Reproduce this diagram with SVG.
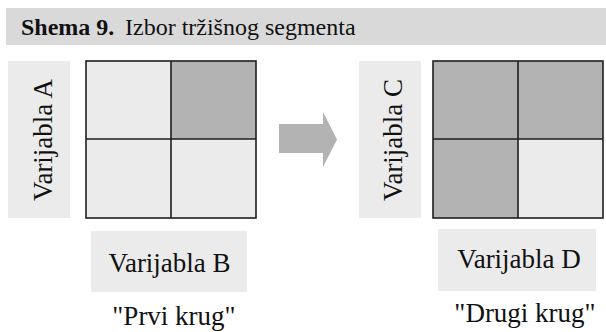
<svg xmlns="http://www.w3.org/2000/svg" width="606" height="332" viewBox="0 0 606 332">
<style>
text{font-family:'Liberation Serif',serif;fill:#111}
.lab{fill:#ebebeb}
.lt{fill:#ebebeb}
.dk{fill:#b3b3b3}
.grid{fill:none;stroke:#1e1e1e;stroke-width:1.6}
</style>
<rect width="606" height="332" fill="#fff"/>
<g id="header">
<rect x="6" y="8" width="600" height="37" fill="#d9d9d9"/>
<text x="21" y="35" font-size="24" font-weight="bold" font-family="Liberation Serif, serif">Shema 9.</text>
<text x="125" y="35" font-size="24" font-family="Liberation Serif, serif">Izbor tržišnog segmenta</text>
</g>
<g id="labelA">
<rect class="lab" x="8" y="61" width="62" height="157"/>
<text font-size="27" text-anchor="middle" font-family="Liberation Serif, serif" transform="translate(52,140) rotate(-90)">Varijabla A</text>
</g>
<g id="grid1">
<rect class="lt" x="86" y="61" width="85" height="78"/>
<rect class="dk" x="171" y="61" width="85" height="78"/>
<rect class="lt" x="86" y="139" width="85" height="79"/>
<rect class="lt" x="171" y="139" width="85" height="79"/>
<rect class="grid" x="86" y="61" width="170" height="157"/>
<line class="grid" x1="171" y1="61" x2="171" y2="218"/>
<line class="grid" x1="86" y1="139" x2="256" y2="139"/>
</g>
<g id="connectors">
<polygon points="279,124 323,124 323,112 337,139.5 323,167 323,153 279,153" fill="#b3b3b3"/>
</g>
<g id="labelC">
<rect class="lab" x="359" y="61" width="62" height="157"/>
<text font-size="27" text-anchor="middle" font-family="Liberation Serif, serif" transform="translate(402,140) rotate(-90)">Varijabla C</text>
</g>
<g id="grid2">
<rect class="dk" x="433" y="61" width="85" height="78"/>
<rect class="dk" x="518" y="61" width="85" height="78"/>
<rect class="dk" x="433" y="139" width="85" height="79"/>
<rect class="lt" x="518" y="139" width="85" height="79"/>
<rect class="grid" x="433" y="61" width="170" height="157"/>
<line class="grid" x1="518" y1="61" x2="518" y2="218"/>
<line class="grid" x1="433" y1="139" x2="603" y2="139"/>
</g>
<g id="labelB">
<rect class="lab" x="91" y="231" width="156" height="61"/>
<text x="169.5" y="272" font-size="27" text-anchor="middle" font-family="Liberation Serif, serif">Varijabla B</text>
</g>
<g id="labelD">
<rect class="lab" x="438" y="229" width="158" height="62"/>
<text x="519" y="268" font-size="27" text-anchor="middle" font-family="Liberation Serif, serif">Varijabla D</text>
</g>
<g id="caption1">
<text x="174" y="325" font-size="27" text-anchor="middle" font-family="Liberation Serif, serif">"Prvi krug"</text>
</g>
<g id="caption2">
<text x="525" y="322" font-size="27" text-anchor="middle" font-family="Liberation Serif, serif">"Drugi krug"</text>
</g>
</svg>
